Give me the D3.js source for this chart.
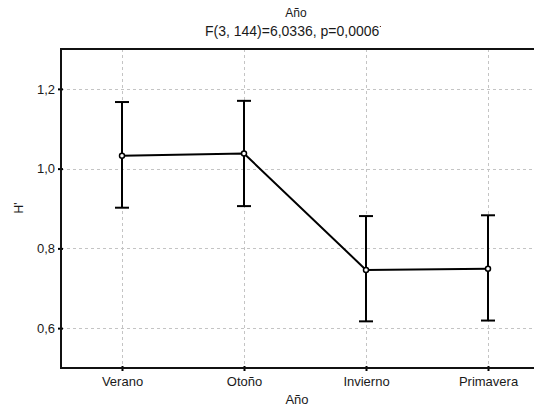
<!DOCTYPE html>
<html>
<head>
<meta charset="utf-8">
<script src="https://cdn.jsdelivr.net/npm/d3@7"></script>
<style>
  html, body { margin: 0; padding: 0; background: #fff; }
  svg { display: block; font-family: "Liberation Sans", Arial, sans-serif; }
</style>
</head>
<body>
<svg id="chart" width="534" height="409"></svg>
<script>
// Season means of H' with their interval limits
const seasons = ["Verano", "Otoño", "Invierno", "Primavera"];
const means   = [1.032, 1.038, 0.746, 0.749];
const upper   = [1.167, 1.170, 0.881, 0.883];
const lower   = [0.902, 0.906, 0.617, 0.619];
const yTicks  = [0.6, 0.8, 1.0, 1.2];

const svg = d3.select("#chart");
const margin = { left: 61, top: 49, right: 549, bottom: 368 };

const x = d3.scalePoint().domain(seasons).range([margin.left, margin.right]).padding(0.5);
const y = d3.scaleLinear().domain([0.5, 1.3]).range([margin.bottom, margin.top]);
const fmt = d3.format(".1f");
const comma = v => fmt(v).replace(".", ",");

// Dashed grid
const grid = svg.append("g").attr("stroke", "#c4c4c4").attr("stroke-dasharray", "3,3").attr("stroke-width", 1);
yTicks.forEach(t => grid.append("line")
  .attr("x1", margin.left).attr("x2", margin.right)
  .attr("y1", Math.round(y(t)) + 0.5).attr("y2", Math.round(y(t)) + 0.5));
seasons.forEach(s => grid.append("line")
  .attr("x1", Math.round(x(s)) + 0.5).attr("x2", Math.round(x(s)) + 0.5)
  .attr("y1", margin.top).attr("y2", margin.bottom));

// Axes
const yAxis = d3.axisLeft(y).tickValues(yTicks).tickFormat(comma).tickSize(3).tickPadding(3);
const xAxis = d3.axisBottom(x).tickSize(3).tickPadding(6);

const gy = svg.append("g").attr("transform", `translate(${margin.left},0)`).call(yAxis);
const gx = svg.append("g").attr("transform", `translate(0,${margin.bottom})`).call(xAxis);
[gy, gx].forEach(g => {
  g.select(".domain").remove();
  g.selectAll(".tick line").attr("stroke", "#000").attr("stroke-width", 2);
  g.selectAll(".tick text").attr("fill", "#1a1a1a").style("font-size", "13px");
});
gx.selectAll(".tick line").attr("y1", -2);
gy.selectAll(".tick line").attr("x1", 2);

// Frame
svg.append("rect")
  .attr("x", margin.left).attr("y", margin.top)
  .attr("width", margin.right - margin.left).attr("height", margin.bottom - margin.top)
  .attr("fill", "none").attr("stroke", "#111").attr("stroke-width", 2);

// Error bars
const eb = svg.append("g").attr("stroke", "#000").attr("stroke-width", 2);
const cap = 7;
seasons.forEach((s, i) => {
  const cx = x(s);
  eb.append("line").attr("x1", cx).attr("x2", cx).attr("y1", y(upper[i])).attr("y2", y(lower[i]));
  eb.append("line").attr("x1", cx - cap).attr("x2", cx + cap).attr("y1", y(upper[i])).attr("y2", y(upper[i]));
  eb.append("line").attr("x1", cx - cap).attr("x2", cx + cap).attr("y1", y(lower[i])).attr("y2", y(lower[i]));
});

// Line through means
svg.append("path")
  .datum(seasons.map((s, i) => [x(s), y(means[i])]))
  .attr("d", d3.line())
  .attr("fill", "none").attr("stroke", "#000").attr("stroke-width", 2);

svg.append("g").selectAll("circle")
  .data(seasons)
  .join("circle")
  .attr("cx", d => x(d)).attr("cy", (d, i) => y(means[i]))
  .attr("r", 2.5).attr("fill", "#fff").attr("stroke", "#000").attr("stroke-width", 1.5);

// Titles
svg.append("defs").append("clipPath").attr("id", "titleClip")
  .append("rect").attr("x", 0).attr("y", 0).attr("width", 381).attr("height", 45);

svg.append("text").attr("x", 296).attr("y", 17).attr("text-anchor", "middle")
  .style("font-size", "12px").attr("fill", "#1a1a1a").text("Año");
svg.append("text").attr("x", 296).attr("y", 36).attr("text-anchor", "middle")
  .attr("clip-path", "url(#titleClip)")
  .style("font-size", "14px").attr("fill", "#1a1a1a").text("F(3, 144)=6,0336, p=0,00067");

svg.append("text").attr("x", 297).attr("y", 404).attr("text-anchor", "middle")
  .style("font-size", "13px").attr("fill", "#1a1a1a").text("Año");
svg.append("text").attr("transform", "translate(23,208) rotate(-90)").attr("text-anchor", "middle")
  .style("font-size", "12px").attr("fill", "#1a1a1a").text("H'");
</script>
</body>
</html>
